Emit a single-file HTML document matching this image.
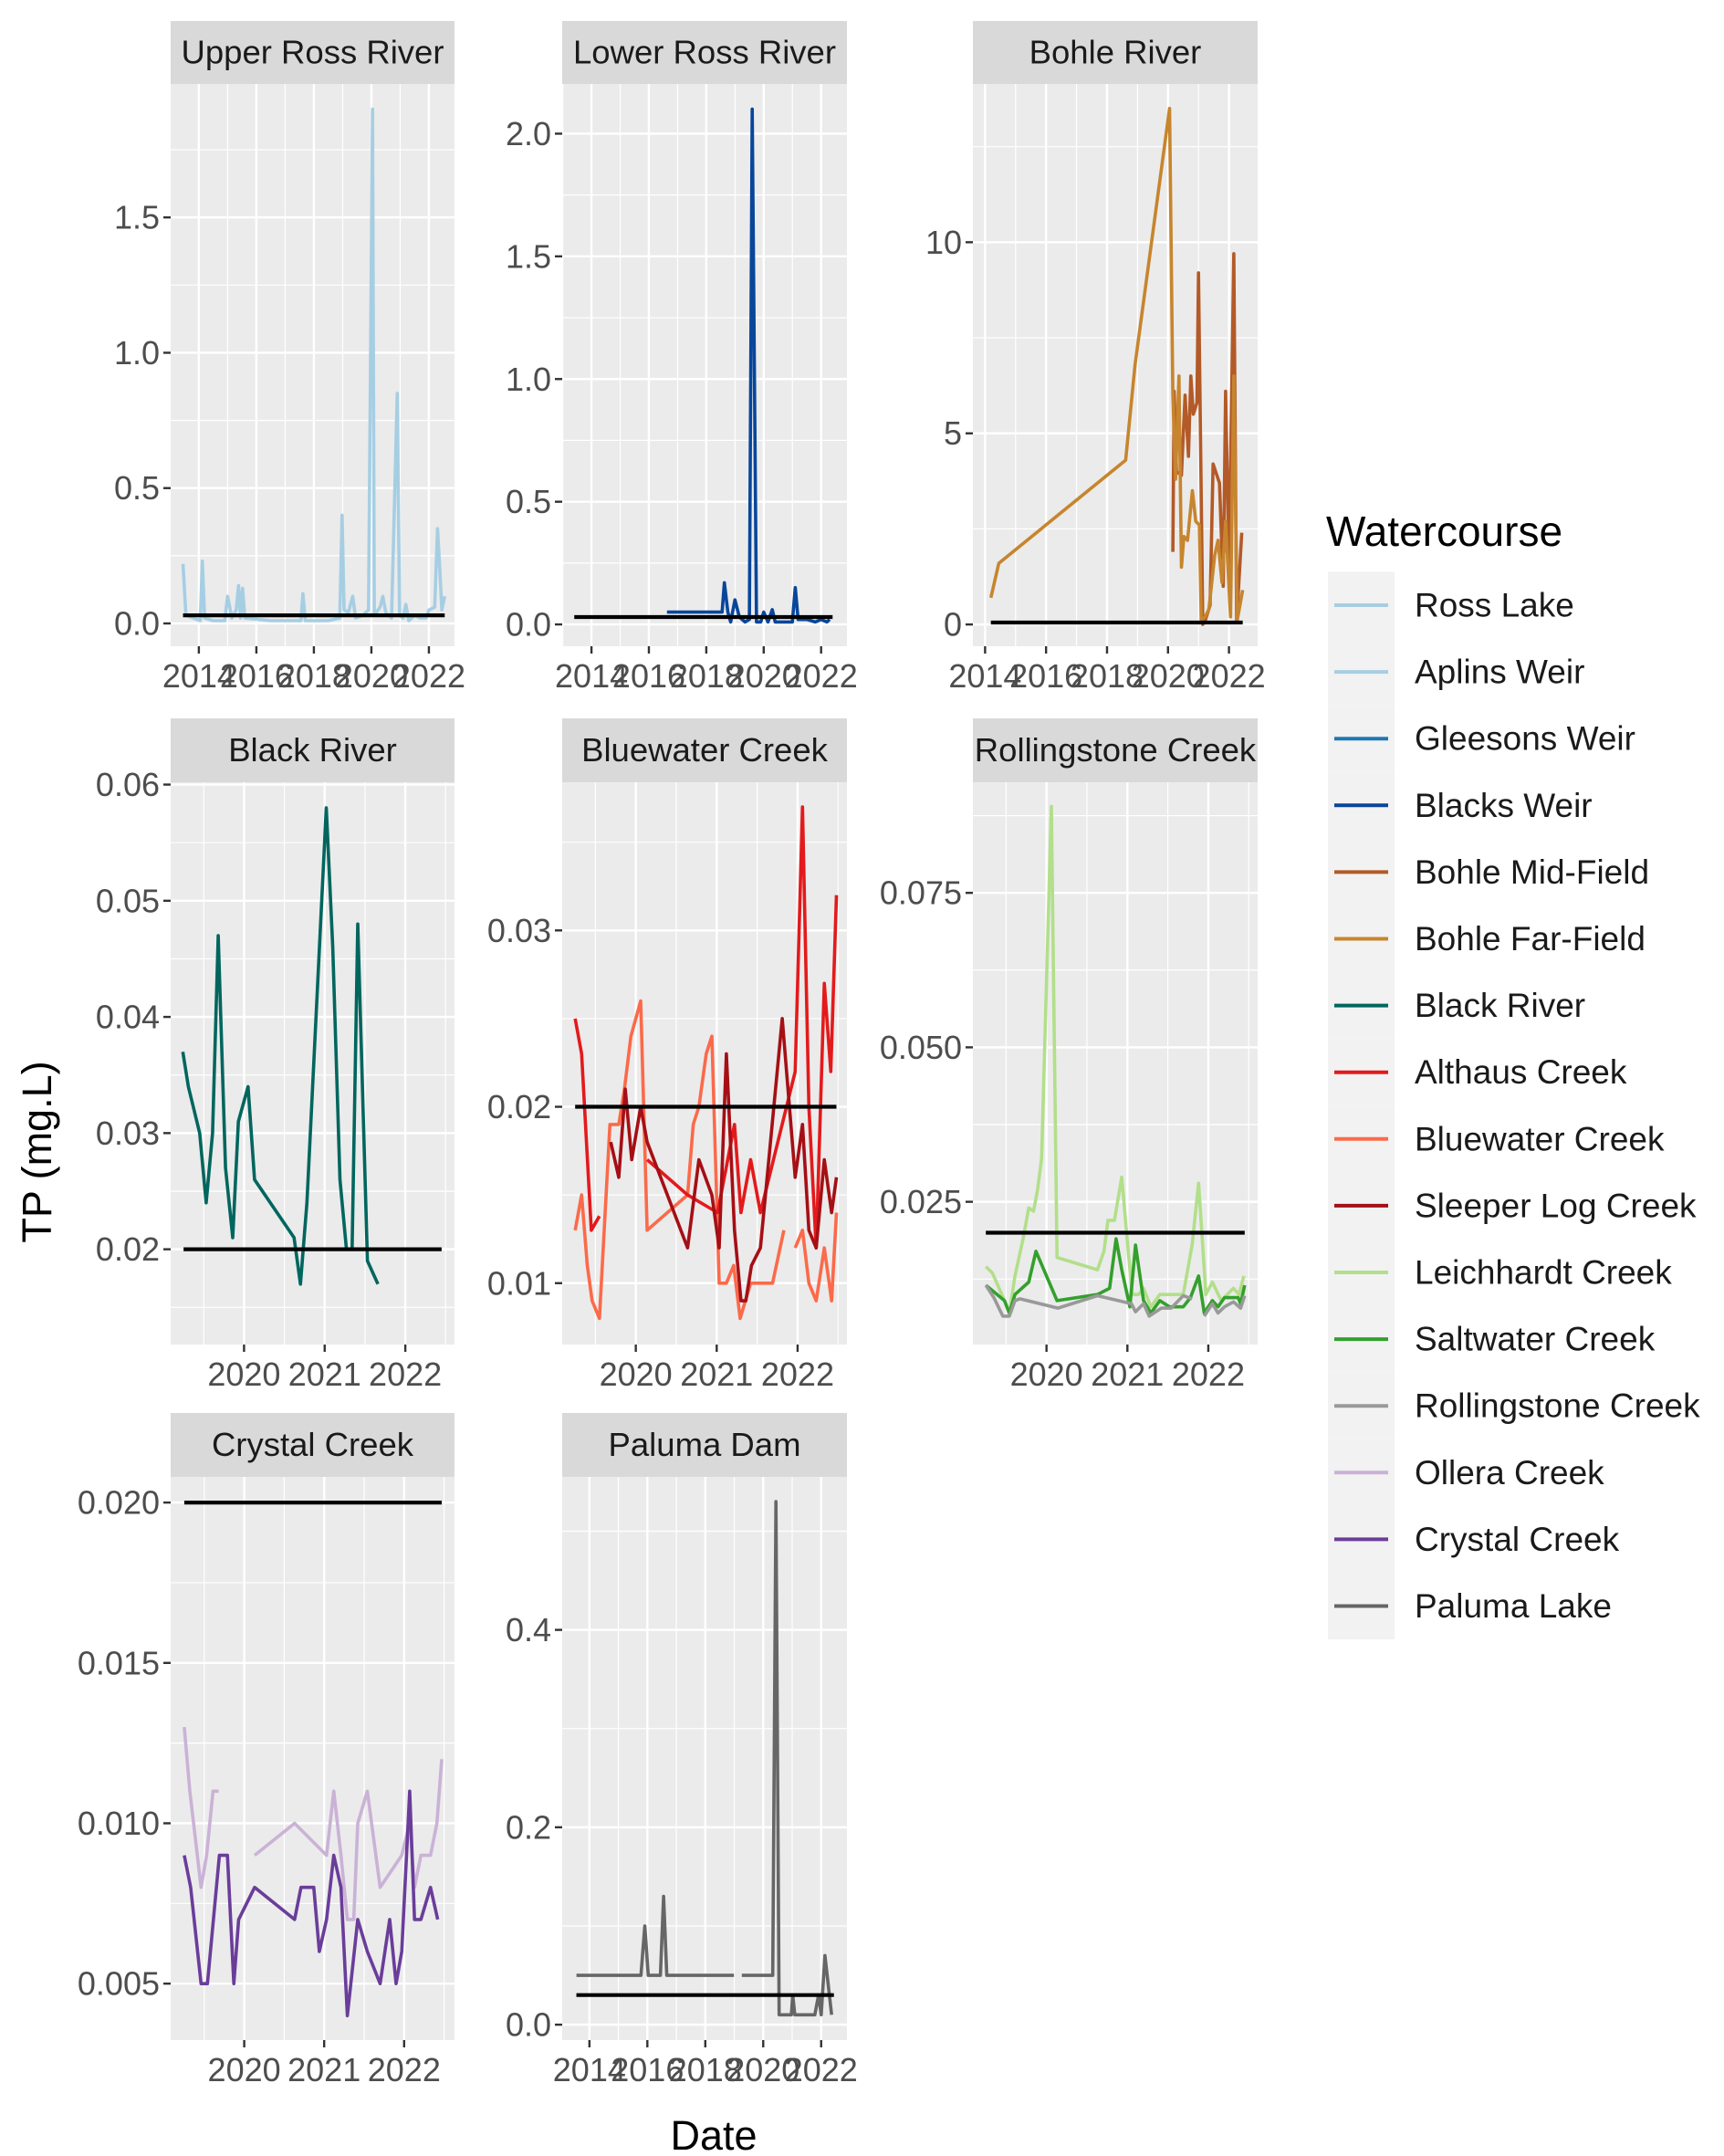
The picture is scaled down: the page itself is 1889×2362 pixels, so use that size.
<!DOCTYPE html>
<html><head><meta charset="utf-8">
<style>
html,body{margin:0;padding:0;background:#fff;}
svg{display:block;font-family:"Liberation Sans",Arial,sans-serif;}
</style></head>
<body>
<svg id="chart" width="1889" height="2362" viewBox="0 0 1889 2362" xmlns="http://www.w3.org/2000/svg"></svg>
<script>
// ---------- DATA ----------
const upperRossX = [2013.45,2013.55,2013.8,2014.05,2014.12,2014.2,2014.5,2014.9,2015.0,2015.15,2015.3,2015.38,2015.45,2015.52,2015.6,2016.5,2017.55,2017.62,2017.7,2018.5,2018.9,2018.98,2019.05,2019.2,2019.35,2019.45,2019.7,2019.9,2020.04,2020.1,2020.3,2020.4,2020.5,2020.7,2020.9,2020.98,2021.1,2021.2,2021.3,2021.5,2021.7,2021.9,2022.0,2022.2,2022.3,2022.38,2022.45,2022.55];
const upperRossY = [0.22,0.03,0.02,0.01,0.23,0.02,0.01,0.01,0.10,0.02,0.05,0.14,0.02,0.13,0.02,0.01,0.01,0.11,0.01,0.01,0.02,0.40,0.05,0.04,0.10,0.02,0.03,0.05,1.90,0.03,0.06,0.10,0.04,0.02,0.85,0.03,0.02,0.07,0.01,0.03,0.02,0.02,0.05,0.06,0.35,0.20,0.05,0.10];
const blacksWeirX = [2016.63,2018.55,2018.63,2018.75,2018.85,2019.0,2019.15,2019.35,2019.5,2019.6,2019.75,2019.9,2020.0,2020.15,2020.3,2020.4,2021.0,2021.1,2021.2,2021.5,2021.8,2022.0,2022.2,2022.3];
const blacksWeirY = [0.05,0.05,0.17,0.05,0.01,0.10,0.03,0.01,0.02,2.10,0.01,0.01,0.05,0.01,0.06,0.01,0.01,0.15,0.02,0.02,0.01,0.02,0.01,0.02];
const bohleFarX = [2014.19,2014.45,2018.61,2018.92,2020.05,2020.16,2020.25,2020.36,2020.44,2020.52,2020.64,2020.8,2020.91,2021.03,2021.09,2021.22,2021.34,2021.53,2021.64,2021.77,2021.89,2022.05,2022.16,2022.27,2022.45];
const bohleFarY = [0.7,1.6,4.3,6.8,13.5,6.0,3.8,6.5,1.5,2.3,2.2,3.5,2.7,2.6,0.1,0.2,0.4,1.8,2.2,1.1,2.7,0.2,6.5,0.1,0.9];
const bohleMidX = [2020.16,2020.2,2020.28,2020.44,2020.56,2020.67,2020.75,2020.83,2020.95,2021.0,2021.14,2021.22,2021.38,2021.48,2021.69,2021.81,2021.89,2022.0,2022.16,2022.25,2022.42];
const bohleMidY = [1.9,6.1,4.0,3.9,6.0,4.4,6.5,5.5,5.8,9.2,0.0,0.1,0.5,4.2,3.7,1.0,6.1,1.5,9.7,0.1,2.4];
const blackRiverX = [2019.24,2019.31,2019.45,2019.53,2019.61,2019.68,2019.77,2019.86,2019.93,2020.05,2020.13,2020.62,2020.70,2020.78,2021.02,2021.10,2021.19,2021.27,2021.34,2021.41,2021.53,2021.66];
const blackRiverY = [0.037,0.034,0.030,0.024,0.030,0.047,0.027,0.021,0.031,0.034,0.026,0.021,0.017,0.024,0.058,0.046,0.026,0.020,0.020,0.048,0.019,0.017];
const althausX = [2019.25,2019.33,2019.45,2019.55,null,2020.14,2020.64,2021.01,2021.22,2021.30,2021.42,2021.54,2021.97,2022.06,2022.14,2022.23,2022.33,2022.41,2022.48];
const althausY = [0.025,0.023,0.013,0.0138,null,0.017,0.015,0.014,0.019,0.014,0.017,0.014,0.022,0.037,0.020,0.012,0.027,0.022,0.032];
const bluewaterX = [2019.25,2019.33,2019.40,2019.46,2019.55,2019.68,2019.79,2019.86,2019.94,2020.06,2020.14,2020.64,2020.71,2020.78,2020.87,2020.94,2021.03,2021.12,2021.21,2021.29,2021.42,2021.69,2021.83,null,2021.97,2022.06,2022.14,2022.23,2022.33,2022.42,2022.48];
const bluewaterY = [0.013,0.015,0.011,0.009,0.008,0.019,0.019,0.021,0.024,0.026,0.013,0.015,0.019,0.020,0.023,0.024,0.010,0.010,0.011,0.008,0.010,0.010,0.013,null,0.012,0.013,0.010,0.009,0.012,0.009,0.014];
const sleeperX = [2019.69,2019.79,2019.87,2019.95,2020.06,2020.14,2020.64,2020.78,2020.94,2021.03,2021.12,2021.22,2021.30,2021.36,2021.43,2021.54,2021.81,2021.97,2022.06,2022.14,2022.23,2022.33,2022.42,2022.48];
const sleeperY = [0.018,0.016,0.021,0.017,0.020,0.018,0.012,0.017,0.015,0.012,0.023,0.013,0.009,0.009,0.011,0.012,0.025,0.016,0.019,0.013,0.012,0.017,0.014,0.016];
const leichX = [2019.25,2019.33,2019.48,2019.54,2019.61,2019.71,2019.78,2019.84,2019.89,2019.94,2020.01,2020.06,2020.13,2020.63,2020.71,2020.76,2020.84,2020.93,2021.01,2021.06,2021.14,2021.20,2021.29,2021.40,2021.69,2021.80,2021.88,2021.97,2022.05,2022.16,2022.31,2022.38,2022.44];
const leichY = [0.0145,0.0135,0.009,0.007,0.013,0.019,0.024,0.0235,0.027,0.032,0.065,0.089,0.016,0.014,0.017,0.022,0.022,0.029,0.017,0.010,0.010,0.011,0.008,0.010,0.010,0.018,0.028,0.010,0.012,0.009,0.011,0.010,0.013];
const saltX = [2019.25,2019.48,2019.54,2019.61,2019.78,2019.87,2020.13,2020.63,2020.78,2020.86,2020.93,2021.03,2021.10,2021.20,2021.29,2021.40,2021.52,2021.69,2021.78,2021.88,2021.95,2022.05,2022.12,2022.20,2022.37,2022.40,2022.45];
const saltY = [0.0115,0.009,0.007,0.010,0.012,0.017,0.009,0.010,0.011,0.019,0.014,0.008,0.018,0.009,0.007,0.009,0.008,0.008,0.0095,0.013,0.007,0.009,0.008,0.0095,0.0095,0.0085,0.0115];
const rollX = [2019.25,2019.35,2019.46,2019.54,2019.61,2019.67,2020.14,2020.63,2021.05,2021.10,2021.20,2021.27,2021.42,2021.54,2021.69,2021.80,null,2021.95,2022.05,2022.12,2022.20,2022.31,2022.40,2022.45];
const rollY = [0.0115,0.0095,0.0065,0.0065,0.009,0.0093,0.0078,0.0098,0.0085,0.0072,0.0085,0.0065,0.0078,0.0078,0.0098,0.0093,null,0.0065,0.0085,0.007,0.008,0.0088,0.0078,0.0098];
const ollX = [2019.25,2019.32,2019.46,2019.53,2019.61,2019.68,null,2020.13,2020.63,2021.03,2021.12,2021.21,2021.29,2021.37,2021.42,2021.54,2021.70,2021.97,2022.07,2022.13,2022.21,2022.33,2022.41,2022.47];
const ollY = [0.013,0.011,0.008,0.009,0.011,0.011,null,0.009,0.010,0.009,0.011,0.009,0.007,0.007,0.010,0.011,0.008,0.009,0.010,0.008,0.009,0.009,0.010,0.012];
const crystalX = [2019.25,2019.33,2019.46,2019.54,2019.69,2019.79,2019.87,2019.93,2020.13,2020.63,2020.71,2020.87,2020.94,2021.03,2021.12,2021.21,2021.29,2021.42,2021.54,2021.70,2021.82,2021.90,2021.97,2022.07,2022.13,2022.21,2022.33,2022.42];
const crystalY = [0.009,0.008,0.005,0.005,0.009,0.009,0.005,0.007,0.008,0.007,0.008,0.008,0.006,0.007,0.009,0.008,0.004,0.007,0.006,0.005,0.007,0.005,0.006,0.011,0.007,0.007,0.008,0.007];
const palumaX = [2013.55,2015.78,2015.91,2016.03,2016.45,2016.56,2016.67,2018.99,null,2019.26,2020.33,2020.44,2020.55,2020.97,2021.02,2021.09,2021.78,2021.91,2022.0,2022.13,2022.36];
const palumaY = [0.05,0.05,0.10,0.05,0.05,0.13,0.05,0.05,null,0.05,0.05,0.53,0.01,0.01,0.03,0.01,0.01,0.03,0.01,0.07,0.01];

const thresholdValues = [0.03,0.03,0.05,0.02,0.02,0.02,0.02,0.03];
const thresholdStart = [2013.45,2013.4,2014.19,2019.25,2019.25,2019.25,2019.25,2013.55];
const thresholdEnd = [2022.55,2022.4,2022.45,2022.45,2022.48,2022.45,2022.47,2022.44];

const legendLabels = ["Ross Lake","Aplins Weir","Gleesons Weir","Blacks Weir","Bohle Mid-Field","Bohle Far-Field","Black River","Althaus Creek","Bluewater Creek","Sleeper Log Creek","Leichhardt Creek","Saltwater Creek","Rollingstone Creek","Ollera Creek","Crystal Creek","Paluma Lake"];
const legendColors = ["#A6CEE3","#A6CEE3","#1F78B4","#08469A","#B35A28","#C7852E","#01665E","#E31A1C","#FB6A4A","#A50F15","#B2DF8A","#33A02C","#999999","#CAB2D6","#6A3D9A","#666666"];

const yearTicksLong = [2014,2016,2018,2020,2022];
const yearTicksShort = [2020,2021,2022];

// ---------- RENDER ----------
const NS = "http://www.w3.org/2000/svg";
const svg = document.getElementById('chart');
function mk(tag, attrs, parent){ const e=document.createElementNS(NS,tag); for(const k in attrs) e.setAttribute(k,attrs[k]); (parent||svg).appendChild(e); return e; }

const cols=[[187,498],[616,928],[1066,1378]];
const rows=[[23,92,708],[787,857,1473],[1548,1618,2235]];

const panels = [
 {title:"Upper Ross River",slug:"upper-ross-river",c:0,r:0,xd:[2013.02,2022.89],yd:[-0.0843,1.993],yt:[0,0.5,1,1.5],yl:["0.0","0.5","1.0","1.5"],ym:[0.25,0.75,1.25,1.75],xt:yearTicksLong,xm:[2013,2015,2017,2019,2021],
  series:[{x:upperRossX,y:upperRossY,c:"#A6CEE3",n:"ross-lake-line"}]},
 {title:"Lower Ross River",slug:"lower-ross-river",c:1,r:0,xd:[2012.98,2022.9],yd:[-0.089,2.2025],yt:[0,0.5,1,1.5,2],yl:["0.0","0.5","1.0","1.5","2.0"],ym:[0.25,0.75,1.25,1.75],xt:yearTicksLong,xm:[2013,2015,2017,2019,2021],
  series:[{x:blacksWeirX,y:blacksWeirY,c:"#08469A",n:"blacks-weir-line"}]},
 {title:"Bohle River",slug:"bohle-river",c:2,r:0,xd:[2013.6,2022.94],yd:[-0.57,14.14],yt:[0,5,10],yl:["0","5","10"],ym:[2.5,7.5,12.5],xt:yearTicksLong,xm:[2015,2017,2019,2021],
  series:[{x:bohleMidX,y:bohleMidY,c:"#B35A28",n:"bohle-mid-field-line"},{x:bohleFarX,y:bohleFarY,c:"#C7852E",n:"bohle-far-field-line"}]},
 {title:"Black River",slug:"black-river",c:0,r:1,xd:[2019.09,2022.61],yd:[0.0118,0.0602],yt:[0.02,0.03,0.04,0.05,0.06],yl:["0.02","0.03","0.04","0.05","0.06"],ym:[0.015,0.025,0.035,0.045,0.055],xt:yearTicksShort,xm:[2019.5,2020.5,2021.5,2022.5],
  series:[{x:blackRiverX,y:blackRiverY,c:"#01665E",n:"black-river-line"}]},
 {title:"Bluewater Creek",slug:"bluewater-creek",c:1,r:1,xd:[2019.09,2022.61],yd:[0.00652,0.0384],yt:[0.01,0.02,0.03],yl:["0.01","0.02","0.03"],ym:[0.015,0.025,0.035],xt:yearTicksShort,xm:[2019.5,2020.5,2021.5,2022.5],
  series:[{x:bluewaterX,y:bluewaterY,c:"#FB6A4A",n:"bluewater-creek-line"},{x:althausX,y:althausY,c:"#E31A1C",n:"althaus-creek-line"},{x:sleeperX,y:sleeperY,c:"#A50F15",n:"sleeper-log-creek-line"}]},
 {title:"Rollingstone Creek",slug:"rollingstone-creek",c:2,r:1,xd:[2019.09,2022.61],yd:[0.0019,0.0929],yt:[0.025,0.05,0.075],yl:["0.025","0.050","0.075"],ym:[0.0125,0.0375,0.0625,0.0875],xt:yearTicksShort,xm:[2019.5,2020.5,2021.5,2022.5],
  series:[{x:leichX,y:leichY,c:"#B2DF8A",n:"leichhardt-creek-line"},{x:saltX,y:saltY,c:"#33A02C",n:"saltwater-creek-line"},{x:rollX,y:rollY,c:"#999999",n:"rollingstone-creek-line"}]},
 {title:"Crystal Creek",slug:"crystal-creek",c:0,r:2,xd:[2019.08,2022.63],yd:[0.00324,0.0208],yt:[0.005,0.01,0.015,0.02],yl:["0.005","0.010","0.015","0.020"],ym:[0.0075,0.0125,0.0175],xt:yearTicksShort,xm:[2019.5,2020.5,2021.5,2022.5],
  series:[{x:ollX,y:ollY,c:"#CAB2D6",n:"ollera-creek-line"},{x:crystalX,y:crystalY,c:"#6A3D9A",n:"crystal-creek-line"}]},
 {title:"Paluma Dam",slug:"paluma-dam",c:1,r:2,xd:[2013.06,2022.89],yd:[-0.0156,0.555],yt:[0,0.2,0.4],yl:["0.0","0.2","0.4"],ym:[0.1,0.3,0.5],xt:yearTicksLong,xm:[2013,2015,2017,2019,2021],
  series:[{x:palumaX,y:palumaY,c:"#666666",n:"paluma-lake-line"}]}
];

panels.forEach((p,pi)=>{
  const [x0,x1]=cols[p.c]; const [st,y0,y1]=rows[p.r];
  const sx=v=>x0+(v-p.xd[0])/(p.xd[1]-p.xd[0])*(x1-x0);
  const sy=v=>y1-(v-p.yd[0])/(p.yd[1]-p.yd[0])*(y1-y0);
  const g=mk('g',{});
  
  
  const strip=mk('rect',{x:x0,y:st,width:x1-x0,height:y0-st,fill:'#D9D9D9'},g);
  
  
  const stt=mk('text',{x:(x0+x1)/2,y:(st+y0)/2+12,'text-anchor':'middle','font-size':36.5,fill:'#1A1A1A'},g);
  stt.textContent=p.title;
  
  
  const bg=mk('rect',{x:x0,y:y0,width:x1-x0,height:y1-y0,fill:'#EBEBEB'},g);
  
  
  p.ym.forEach(v=>{ if(v>p.yd[0]&&v<p.yd[1]) mk('line',{x1:x0,x2:x1,y1:sy(v),y2:sy(v),stroke:'#fff','stroke-width':1.2},g); });
  p.xm.forEach(v=>{ if(v>p.xd[0]&&v<p.xd[1]) mk('line',{y1:y0,y2:y1,x1:sx(v),x2:sx(v),stroke:'#fff','stroke-width':1.2},g); });
  p.yt.forEach((v,i)=>{
    mk('line',{x1:x0,x2:x1,y1:sy(v),y2:sy(v),stroke:'#fff','stroke-width':2.4},g);
    mk('line',{x1:x0-8,x2:x0,y1:sy(v),y2:sy(v),stroke:'#333','stroke-width':2.4},g);
    const t=mk('text',{x:x0-12,y:sy(v)+12.5,'text-anchor':'end','font-size':36,fill:'#4D4D4D'},g);
    t.textContent=p.yl[i];
    
    
  });
  p.xt.forEach(v=>{
    mk('line',{y1:y0,y2:y1,x1:sx(v),x2:sx(v),stroke:'#fff','stroke-width':2.4},g);
    mk('line',{y1:y1,y2:y1+8,x1:sx(v),x2:sx(v),stroke:'#333','stroke-width':2.4},g);
    const t=mk('text',{x:sx(v),y:y1+45,'text-anchor':'middle','font-size':36,fill:'#4D4D4D'},g);
    t.textContent=String(v);
    
    
  });
  p.series.forEach(s=>{
    let d='', pen=false;
    for(let i=0;i<s.x.length;i++){
      if(s.x[i]===null||s.y[i]===null){pen=false;continue;}
      d+=(pen?'L':'M')+sx(s.x[i]).toFixed(1)+' '+sy(s.y[i]).toFixed(1);
      pen=true;
    }
    const path=mk('path',{d:d,fill:'none',stroke:s.c,'stroke-width':3.6,'stroke-linejoin':'round'},g);
    
    
  });
  const th=mk('line',{x1:sx(thresholdStart[pi]),x2:sx(thresholdEnd[pi]),y1:sy(thresholdValues[pi]),y2:sy(thresholdValues[pi]),stroke:'#000','stroke-width':4.2},g);
  
  
});

// axis titles
const yt=mk('text',{x:0,y:0,transform:'translate(56,1262) rotate(-90)','text-anchor':'middle','font-size':45,fill:'#000'});
yt.textContent='TP (mg.L)';


const xt=mk('text',{x:782,y:2355,'text-anchor':'middle','font-size':45,fill:'#000'});
xt.textContent='Date';



// legend
const lg=mk('g',{});


const lt=mk('text',{x:1453,y:598,'font-size':46,fill:'#000'},lg);
lt.textContent='Watercourse';


legendLabels.forEach((lab,i)=>{
  const cy=663+i*73.1;
  const e=mk('g',{},lg);
  
  
  mk('rect',{x:1455,y:cy-36.5,width:73,height:73.1,fill:'#F2F2F2'},e);
  mk('line',{x1:1462,x2:1521,y1:cy,y2:cy,stroke:legendColors[i],'stroke-width':4},e);
  const t=mk('text',{x:1550,y:cy+12.5,'font-size':37,fill:'#1A1A1A'},e);
  t.textContent=lab;
});
</script>
</body></html>
